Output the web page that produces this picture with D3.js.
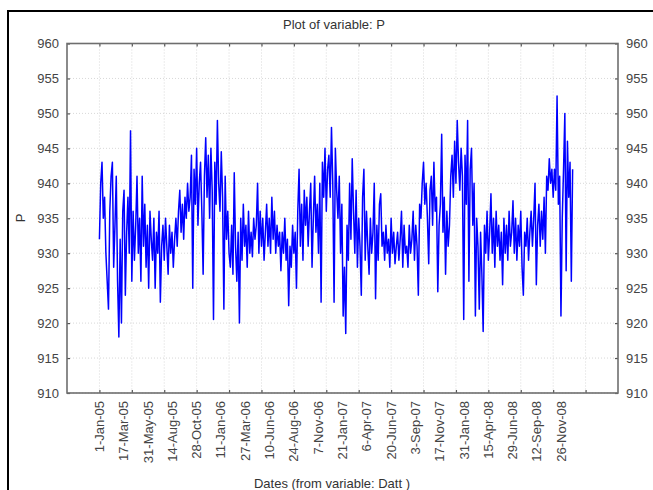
<!DOCTYPE html>
<html><head><meta charset="utf-8">
<script src="https://cdn.jsdelivr.net/npm/d3@7"></script>
<style>
body{margin:0;background:#fff}
svg{display:block}
text{font-family:"Liberation Sans",Arial,sans-serif;fill:#333}
</style>
</head><body>
<svg id="c" width="653" height="490"></svg>
<script>
// ---- data ----
const startDate = "2005-01-01";
const stepDays = 4;   // one value every 4 days, from 1-Jan-05 to 31-Dec-08
const pValues = [
932,940,943,935,938,930,926,922,936,941,
943,928,934,941,926,918,932,920,936,939,
924,933,938,930,947.5,926,936,929,934,941,
930,935,926,941,931,937,928,934,925,936,
932,929,935,925,933,930,936,923,931,934,
929,935,931,927,934,930,933,928,932,935,
931,936,939,933,937,932,938,935,940,936,
938,944,925,942,937,945,934,940,943,936,
927,941,946.5,938,944,935,945,939,920.5,943,
937,949,940,936,944.5,938,922,941,932,936,
930,928,934,927,941.5,931,926,933,920,935,
929,937,931,934,928,936,930,933,929.5,935,
932,934,940,930,936,931,935,929,933,937,
931,935,930,938,932,936,930,934,931,933,
927.5,933,930,935,929,932,922.5,931,928,934,
930,933,925,936,942,931,937,929,939,934,
938,931,936,940,928,935,941,933,937,930,
940,923,943,938,945,936,942,944,938,948,
940,923,945,939,935,941,930,937,921,928,
918.5,934,929,940,932,943.5,936,930,939,928,
935,931,924,938,942,929,936,931,927,935,
930,933,940,923.5,934,929,937,938.5,931,933,
929,934,930,932,928,935,930,933,928.5,931,
933,929,932,936,928,934,930,931,928,934,
930,932,936,929,934,931,924,937,935,940,
943,937,940,935,928.5,939,941,934,943,936,
938,924.5,934,937,947,933,938,927,936,931,
934,941,944,938,946,940,949,943,939,945,
941,920.5,944,937,949,926,942,945,934,940,
921,935,931,922,933,927,918.8,934,930,936,
929,933,938.5,930,935,928,936,931,934,929,
933,925.5,935,930,934,929,936,931,933,937.5,
930,935,929,934,931,936,928,924,933,931,
935,929,933,936,931,935,940,925.5,934,937,
931,936,932,938,930,941,939,943.5,940,942,
938,942,939,952.5,937,941,921,935,942,950,
927.5,946,938,943,926,942
];
const xLabels = ["1-Jan-05","17-Mar-05","31-May-05","14-Aug-05","28-Oct-05","11-Jan-06",
"27-Mar-06","10-Jun-06","24-Aug-06","7-Nov-06","21-Jan-07","6-Apr-07","20-Jun-07",
"3-Sep-07","17-Nov-07","31-Jan-08","15-Apr-08","29-Jun-08","12-Sep-08","26-Nov-08"];
const labelStepDays = 75;
const yTicks = [910,915,920,925,930,935,940,945,950,955,960];
const caseTicks = [0,100,200,300,400,500,600,700,800,900,1000,1100,1200,1300,1400,1500];
const titleText = "Plot of variable: P";
const yTitle = "P";
const xTitle = "Dates (from variable: Datt )";

// ---- layout ----
const L = 67, R = 618, T = 43.5, B = 393;
const svg = d3.select("#c");
const x = d3.scaleLinear().domain([-100, 1600]).range([L, R]);
const y = d3.scaleLinear().domain([910, 960]).range([B, T]);

// outer frame (cropped on right/bottom)
svg.append("path").attr("d", `M8,${653} L8,11 L660,11`).attr("fill","none")
  .attr("stroke","#000").attr("stroke-width",2);

// grid
const g = svg.append("g");
g.selectAll(".gy").data(yTicks).join("line")
  .attr("x1", L).attr("x2", R).attr("y1", d=>y(d)).attr("y2", d=>y(d))
  .attr("stroke","#d8d8d8").attr("stroke-width",1).attr("stroke-dasharray","1,2");
g.selectAll(".gx").data(caseTicks).join("line")
  .attr("x1", d=>x(d)).attr("x2", d=>x(d)).attr("y1", T).attr("y2", B)
  .attr("stroke","#d8d8d8").attr("stroke-width",1).attr("stroke-dasharray","1,2");

// data line
svg.append("clipPath").attr("id","clip").append("rect")
  .attr("x",L).attr("y",T).attr("width",R-L).attr("height",B-T);
const line = d3.line().x((d,i)=>x(i*stepDays)).y(d=>y(d));
svg.append("path").datum(pValues).attr("d", line).attr("clip-path","url(#clip)")
  .attr("fill","none").attr("stroke","#0000ff").attr("stroke-width",1.5)
  .attr("stroke-linejoin","round");

// axes
const axL = d3.axisLeft(y).tickValues(yTicks).tickSize(-3).tickPadding(8);
const axR = d3.axisRight(y).tickValues(yTicks).tickSize(-3).tickPadding(8);
const axB = d3.axisBottom(x).tickValues(caseTicks).tickSize(-3).tickFormat("");
const axT = d3.axisTop(x).tickValues(caseTicks).tickSize(-3).tickFormat("");
function style(sel){
  sel.selectAll(".domain").attr("stroke","#6e6e6e").attr("stroke-width",1.6);
  sel.selectAll(".tick line").attr("stroke","#555").attr("stroke-width",1.2);
  sel.selectAll(".tick text").attr("font-size",13).style("fill","#444");
}
svg.append("g").attr("transform",`translate(${L},0)`).call(axL).call(style);
svg.append("g").attr("transform",`translate(${R},0)`).call(axR).call(style);
svg.append("g").attr("transform",`translate(0,${B})`).call(axB).call(style);
svg.append("g").attr("transform",`translate(0,${T})`).call(axT).call(style);
svg.selectAll(".domain").attr("d", null);
svg.append("rect").attr("x",L).attr("y",T).attr("width",R-L).attr("height",B-T)
  .attr("fill","none").attr("stroke","#6e6e6e").attr("stroke-width",1.6);

// date labels
svg.append("g").selectAll("text").data(xLabels).join("text")
  .attr("transform",(d,i)=>`translate(${x(i*labelStepDays)+4.5},${B+8}) rotate(-90)`)
  .attr("text-anchor","end").attr("font-size",13).style("fill","#444")
  .text(d=>d);

// titles
svg.append("text").attr("x", 334).attr("y", 29).attr("text-anchor","middle")
  .attr("font-size",13).text(titleText);
svg.append("text").attr("transform",`translate(25,218) rotate(-90)`)
  .attr("text-anchor","middle").attr("font-size",13).text(yTitle);
svg.append("text").attr("x", 332).attr("y", 488).attr("text-anchor","middle")
  .attr("font-size",13).text(xTitle);
</script>
</body></html>
